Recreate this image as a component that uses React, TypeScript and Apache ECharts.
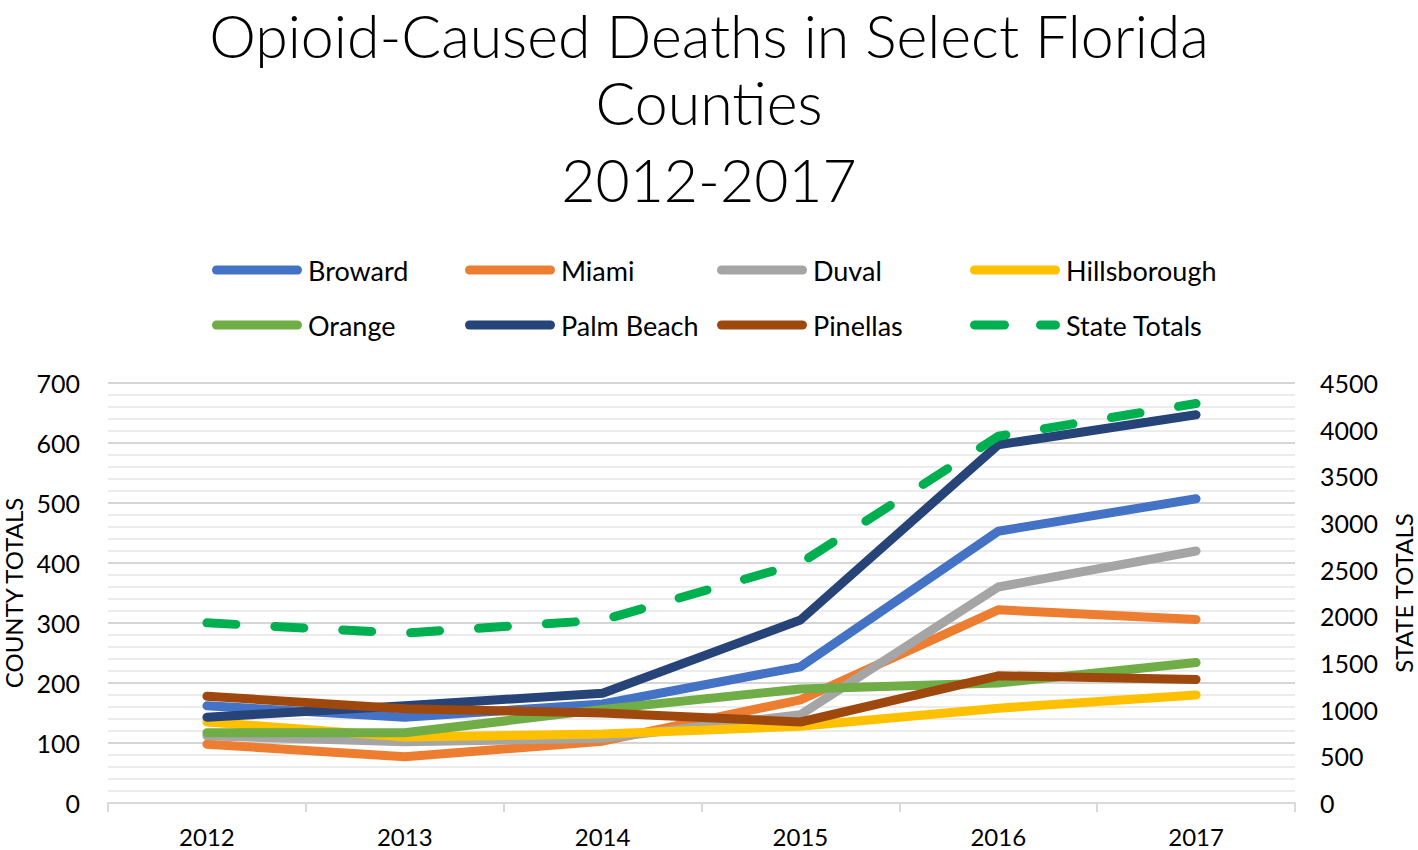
import React, { useEffect, useRef } from "react";
import * as echarts from "echarts";

const years = ["2012", "2013", "2014", "2015", "2016", "2017"];
const broward = [162, 143, 165, 227, 453, 507];
const miami = [98, 77, 103, 172, 322, 306];
const duval = [112, 102, 108, 147, 360, 420];
const hillsborough = [135, 110, 115, 128, 158, 180];
const orange = [117, 117, 156, 190, 200, 234];
const palmBeach = [143, 162, 183, 305, 597, 647];
const pinellas = [178, 157, 150, 135, 212, 206];
const stateTotals = [1930, 1820, 1960, 2570, 3930, 4280];

const titleLines = ["Opioid-Caused Deaths in Select Florida", "Counties", "2012-2017"];
const countyNames = ["Broward", "Miami", "Duval", "Hillsborough", "Orange", "Palm Beach", "Pinellas"];
const countyData = [broward, miami, duval, hillsborough, orange, palmBeach, pinellas];
const colors = ["#4472C4", "#ED7D31", "#A5A5A5", "#FFC000", "#70AD47", "#264478", "#9E480E", "#00B050"];
const stateName = "State Totals";

const FONT = "Lato, 'Open Sans', sans-serif";

const solidIcon = "path://M4.5,0h81a4.5,4.5 0 0 1 0,9h-81a4.5,4.5 0 0 1 0,-9z";
const dashIcon =
  "path://M4.5,0h30a4.5,4.5 0 0 1 0,9h-30a4.5,4.5 0 0 1 0,-9z M70.5,0h15a4.5,4.5 0 0 1 0,9h-15a4.5,4.5 0 0 1 0,-9z";

export default function App() {
  const ref = useRef<HTMLDivElement>(null);
  useEffect(() => {
    if (!ref.current) return;
    const chart = echarts.init(ref.current, null, { renderer: "svg" });
    const allNames = [...countyNames, stateName];
    const colLefts = [212, 465, 717, 970];
    const rowTops = [255, 310];
    const legends = allNames.map((name, i) => ({
      data: [{ name, icon: i === 7 ? dashIcon : solidIcon }],
      left: colLefts[i % 4],
      top: rowTops[Math.floor(i / 4)],
      padding: 0,
      itemWidth: 90,
      itemHeight: 9,
      itemGap: 0,
      symbolKeepAspect: false,
      selectedMode: false,
      textStyle: { fontFamily: FONT, fontSize: 27, color: "#000", lineHeight: 30, padding: [0, 0, 0, 1] },
    }));
    const titleTops = [0, 64, 141];
    const titleLineHeights = [71, 77, 77];
    const titles = titleLines.map((text, i) => ({
      text,
      left: "center",
      top: titleTops[i],
      padding: 0,
      textStyle: {
        fontFamily: FONT,
        fontWeight: 300,
        fontSize: 59,
        lineHeight: titleLineHeights[i],
        color: "#000",
      },
    }));
    const lineSeries = countyNames.map((name, i) => ({
      name,
      type: "line",
      yAxisIndex: 0,
      data: countyData[i],
      symbol: "none",
      lineStyle: { color: colors[i], width: 9, cap: "round", join: "round" },
      itemStyle: { color: colors[i] },
    }));
    const option = {
      animation: false,
      backgroundColor: "#fff",
      title: titles,
      legend: legends,
      grid: { left: 108, right: 123, top: 383, bottom: 47, containLabel: false, outerBoundsMode: "none" },
      xAxis: {
        type: "category",
        data: years,
        boundaryGap: true,
        axisLine: { show: true, lineStyle: { color: "#d9d9d9", width: 2 } },
        axisTick: { show: true, length: 9, lineStyle: { color: "#d9d9d9", width: 2 } },
        axisLabel: { fontFamily: FONT, fontSize: 24, lineHeight: 22, color: "#000", margin: 22 },
      },
      yAxis: [
        {
          type: "value",
          min: 0,
          max: 700,
          interval: 100,
          name: "COUNTY TOTALS",
          nameLocation: "middle",
          nameRotate: 90,
          nameGap: 78,
          nameTextStyle: { fontFamily: FONT, fontSize: 24, lineHeight: 24, color: "#000" },
          axisLine: { show: false },
          axisTick: { show: false },
          axisLabel: { fontFamily: FONT, fontSize: 25, color: "#000", margin: 28 },
          splitLine: { show: true, lineStyle: { color: "#d6d6d6", width: 2 } },
          minorTick: { show: false, splitNumber: 5 },
          minorSplitLine: { show: true, lineStyle: { color: "#ececec", width: 2 } },
        },
        {
          type: "value",
          min: 0,
          max: 4500,
          interval: 500,
          name: "STATE TOTALS",
          nameLocation: "middle",
          nameRotate: 90,
          nameGap: 96,
          nameTextStyle: { fontFamily: FONT, fontSize: 24, lineHeight: 24, color: "#000" },
          axisLine: { show: false },
          axisTick: { show: false },
          axisLabel: {
            fontFamily: FONT,
            fontSize: 25,
            color: "#000",
            margin: 25,
            formatter: (v: number) => String(v),
          },
          splitLine: { show: false },
        },
      ],
      series: [
        ...lineSeries,
        {
          name: stateName,
          type: "line",
          yAxisIndex: 1,
          data: stateTotals,
          symbol: "none",
          lineStyle: { color: colors[7], width: 9, type: [29, 39], cap: "round", join: "round" },
          itemStyle: { color: colors[7] },
        },
      ],
    };
    chart.setOption(option as any);
    return () => chart.dispose();
  }, []);
  return <div ref={ref} style={{ width: 1418, height: 850, position: "absolute", left: 0, top: 0 }} />;
}
